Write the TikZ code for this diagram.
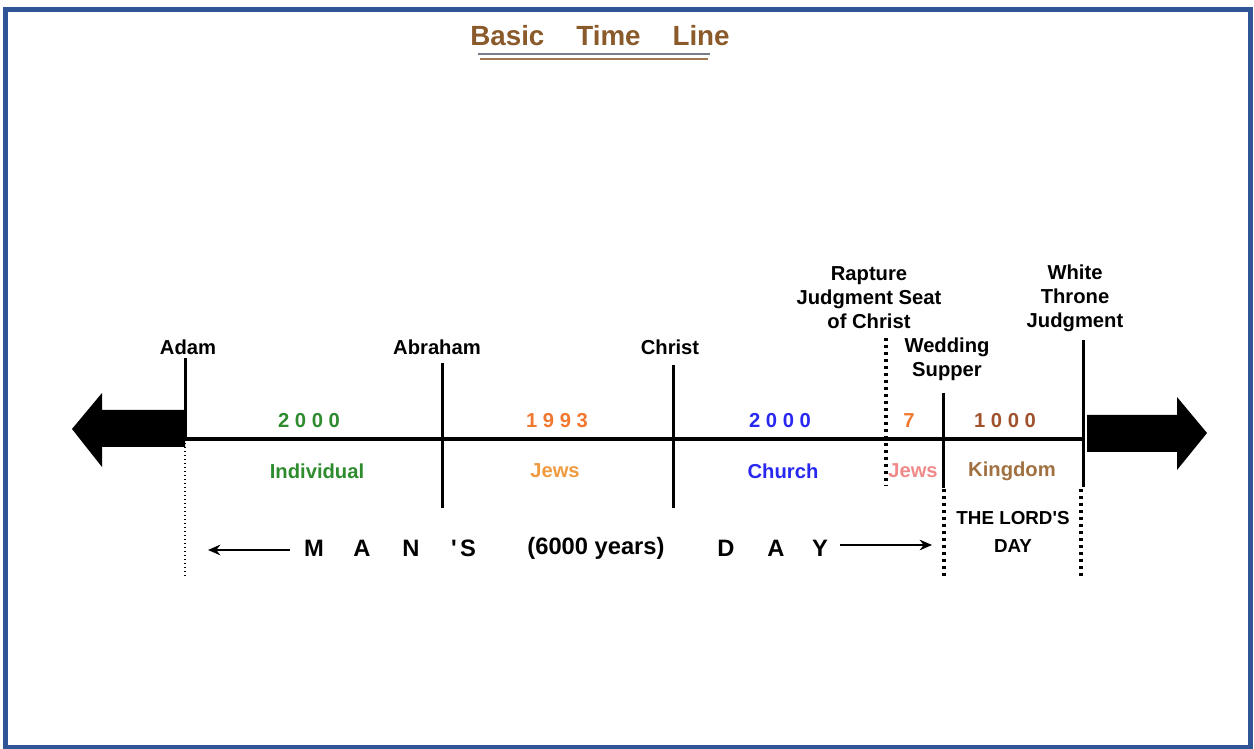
\documentclass[tikz,border=0pt]{standalone}
\usepackage{fontspec}
\setmainfont{Liberation Sans}
\usetikzlibrary{arrows.meta}

\definecolor{frameblue}{HTML}{2F5597}
\definecolor{titlebrown}{HTML}{8B5A2B}
\definecolor{rulegray}{HTML}{75808C}
\definecolor{rulebrown}{HTML}{A07850}
\definecolor{indgreen}{HTML}{2E8B2E}
\definecolor{numorange}{HTML}{F07830}
\definecolor{jewsorange}{HTML}{F09A40}
\definecolor{churchblue}{HTML}{2828F0}
\definecolor{jewspink}{HTML}{F08A8A}
\definecolor{kingbrown}{HTML}{A0522D}
\definecolor{kinglight}{HTML}{A07040}

\begin{document}
\begin{tikzpicture}[x=0.02cm, y=-0.02cm,
    lbl/.style={font=\bfseries\fontsize{11.5}{13.7}\selectfont, align=center, inner sep=0pt},
    big/.style={font=\bfseries\fontsize{13.5}{16}\selectfont, inner sep=0pt},
    tick/.style={line width=0.06cm},
    dots/.style={line width=0.075cm, dash pattern=on 0.06cm off 0.08cm},
    thindots/.style={line width=0.035cm, dash pattern=on 0.03cm off 0.05cm},
    smallarrow/.style={line width=0.05cm, -{Stealth[length=7pt, width=6pt]}}]
    \useasboundingbox (0,0) rectangle (1254,749);

    % Frame
    \draw[frameblue, line width=0.1cm] (5.5,9.5) rectangle (1250.5,747);

    % Title
    \node (title) [font=\bfseries\fontsize{15.8}{18}\selectfont, text=titlebrown, inner sep=0pt]
        at (600,36) {Basic\hspace{1.15em}Time\hspace{1.15em}Line};
    \draw[rulegray, line width=0.04cm] (478,54) -- (710,54);
    \draw[rulebrown, line width=0.04cm] (480,59) -- (708,59);

    % Events on the line
    \coordinate (adam) at (185,439);
    \coordinate (abraham) at (442,439);
    \coordinate (christ) at (673,439);
    \coordinate (rapture) at (886,439);
    \coordinate (wedding) at (943,439);
    \coordinate (throne) at (1083,439);

    % Big arrows
    \fill (185,410) -- (102,410) -- (102,393) -- (72,429) -- (102,467) -- (102,447) -- (185,447) -- cycle;
    \fill (1087,415) -- (1177,415) -- (1177,397) -- (1207,433) -- (1177,470) -- (1177,452) -- (1087,452) -- cycle;

    % Main line
    \draw[line width=0.08cm] (adam) -- (throne);

    % Ticks
    \draw[tick] (adam) -- ++(0,-81);
    \draw[thindots] (adam) -- ++(0,137);
    \draw[tick] (abraham) ++(0,-76) -- ++(0,145);
    \draw[tick] (christ) ++(0,-74) -- ++(0,143);
    \draw[dots] (rapture) ++(0,-101) -- ++(0,148);
    \draw[tick] (wedding) ++(0,-46) -- ++(0,95);
    \draw[dots] (wedding) ++(1,50) -- ++(0,90);
    \draw[tick] (throne) ++(0,-99) -- ++(0,147);
    \draw[dots] (throne) ++(-2,50) -- ++(0,90);

    % Event labels
    \node (adamlbl) [lbl] at (188,347) {Adam};
    \node (abrahamlbl) [lbl] at (437,347) {Abraham};
    \node (christlbl) [lbl] at (670,347) {Christ};
    \node (rapturelbl) [lbl] at (869,298) {Rapture\\Judgment Seat\\of Christ};
    \node (weddinglbl) [lbl] at (947,359) {Wedding\\Supper};
    \node (thronelbl) [lbl] at (1075,298) {White\\Throne\\Judgment};

    % Years
    \node (yrs1) [lbl, text=indgreen] at (309,421) {2 0 0 0};
    \node (yrs2) [lbl, text=numorange] at (557,421) {1 9 9 3};
    \node (yrs3) [lbl, text=churchblue] at (780,421) {2 0 0 0};
    \node (yrs4) [lbl, text=numorange] at (909,421) {7};
    \node (yrs5) [lbl, text=kingbrown] at (1005,421) {1 0 0 0};

    % Ages
    \node (age1) [lbl, text=indgreen] at (317,471) {Individual};
    \node (age2) [lbl, text=jewsorange] at (555,471) {Jews};
    \node (age3) [lbl, text=churchblue] at (783,471) {Church};
    \node (age4) [lbl, text=jewspink] at (913,471) {Jews};
    \node (age5) [lbl, text=kinglight] at (1012,471) {Kingdom};

    % Man's day
    \foreach \ch/\xx [count=\i] in {M/314, A/362, N/411, \textquotesingle/454, S/468}
        \node (mans\i) [big] at (\xx,548) {\ch};
    \node (sixk) [big] at (596,548) {(6000 years)};
    \foreach \ch/\xx [count=\i] in {D/726, A/776, Y/820}
        \node (day\i) [big] at (\xx,548) {\ch};
    \coordinate (leftend) at (208,550);
    \coordinate (rightend) at (932,545);
    \draw[smallarrow] (mans1.west) ++(-14,2) -- (leftend);
    \draw[smallarrow] (day3.east) ++(12,-3) -- (rightend);

    % Lord's day
    \node (lordsday) [font=\bfseries\fontsize{10.7}{16}\selectfont, align=center, inner sep=0pt]
        at (1013,532) {THE LORD\textquotesingle S\\DAY};
\end{tikzpicture}
\end{document}
